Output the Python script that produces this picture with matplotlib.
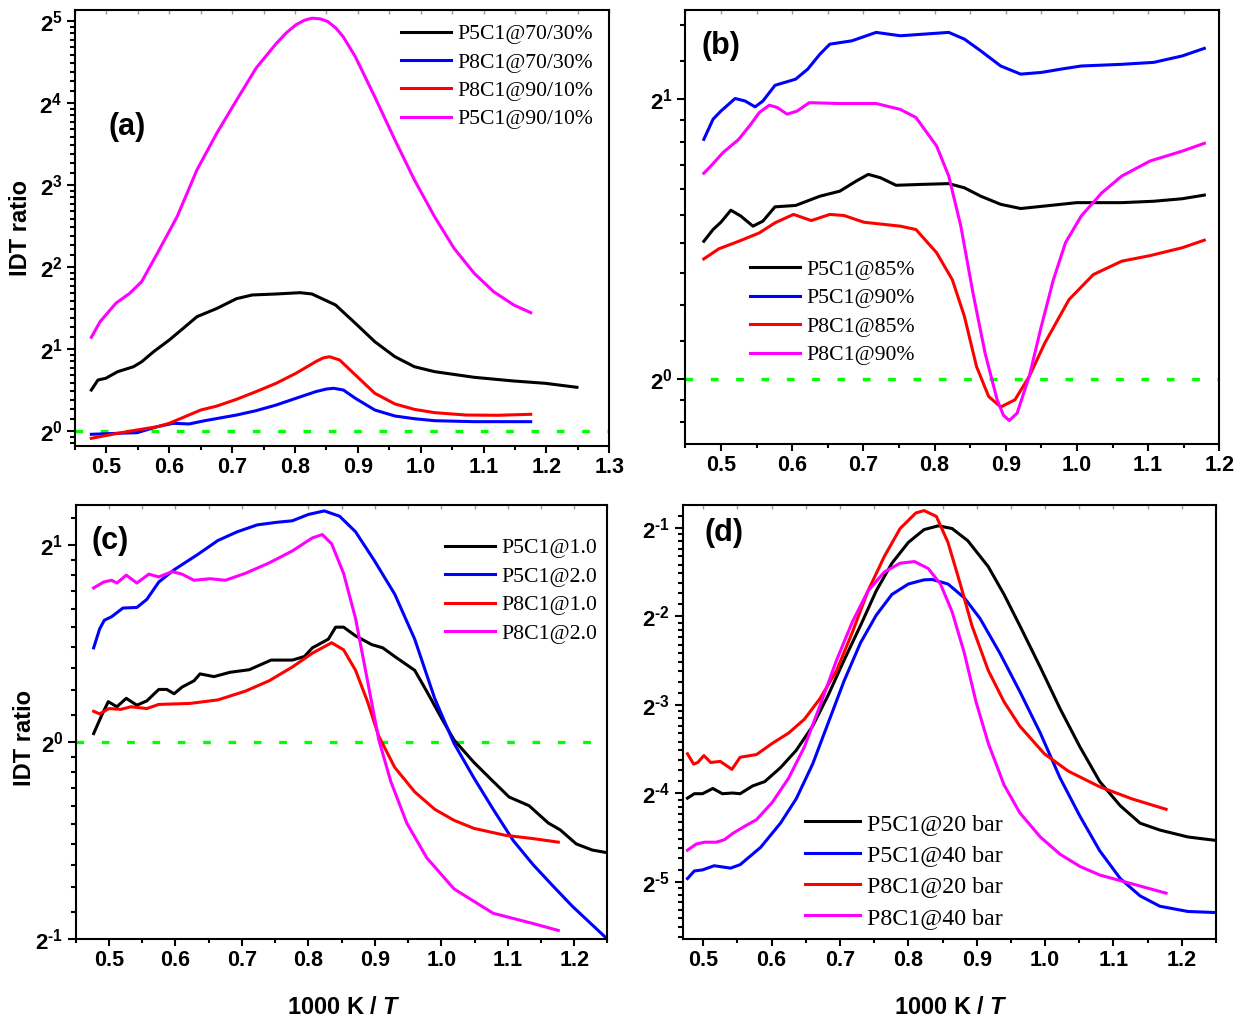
import numpy as np
import matplotlib
matplotlib.use('Agg')
import matplotlib.pyplot as plt
from matplotlib.ticker import MultipleLocator, LogLocator, FuncFormatter, FormatStrFormatter, NullFormatter

plt.rcParams['font.family'] = ['Liberation Sans', 'DejaVu Sans']
plt.rcParams['font.weight'] = 'bold'
plt.rcParams['mathtext.fontset'] = 'custom'
plt.rcParams['mathtext.rm'] = 'Liberation Sans'
plt.rcParams['mathtext.bf'] = 'Liberation Sans:bold'
plt.rcParams['mathtext.it'] = 'Liberation Sans:italic:bold'

# values, y given as log2(IDT ratio)
# (a) blend ratio
a_p5c1_7030_x = [0.476, 0.4865, 0.499, 0.518, 0.543, 0.556, 0.575, 0.600, 0.619, 0.644, 0.6565, 0.6755, 0.707, 0.732,
                 0.770, 0.808, 0.827, 0.8645, 0.896, 0.927, 0.959, 0.990, 1.022, 1.085, 1.148, 1.198, 1.2485]
a_p5c1_7030_log2 = [0.496, 0.618, 0.639, 0.720, 0.780, 0.840, 0.963, 1.106, 1.228, 1.390, 1.430, 1.490, 1.610, 1.655,
                    1.667, 1.683, 1.667, 1.533, 1.310, 1.085, 0.902, 0.780, 0.720, 0.651, 0.606, 0.578, 0.529]
a_p8c1_7030_x = [0.476, 0.518, 0.549, 0.581, 0.606, 0.6315, 0.6565, 0.707, 0.738, 0.770, 0.8015, 0.833, 0.850, 0.8615,
                 0.877, 0.896, 0.927, 0.959, 0.990, 1.022, 1.085, 1.175]
a_p8c1_7030_log2 = [-0.044, -0.032, -0.024, 0.049, 0.090, 0.082, 0.122, 0.191, 0.244, 0.313, 0.395, 0.476, 0.508, 0.517,
                    0.496, 0.395, 0.252, 0.179, 0.146, 0.122, 0.110, 0.110]
a_p8c1_9010_x = [0.476, 0.518, 0.549, 0.581, 0.600, 0.625, 0.650, 0.6755, 0.707, 0.738, 0.770, 0.8015, 0.833, 0.845,
                 0.855, 0.871, 0.896, 0.927, 0.959, 0.990, 1.022, 1.072, 1.1225, 1.175]
a_p8c1_9010_log2 = [-0.093, -0.032, 0.009, 0.049, 0.090, 0.171, 0.252, 0.300, 0.383, 0.476, 0.578, 0.700, 0.842, 0.888,
                    0.902, 0.862, 0.680, 0.456, 0.326, 0.260, 0.220, 0.191, 0.188, 0.200]
a_p5c1_9010_x = [0.476, 0.490, 0.515, 0.537, 0.556, 0.581, 0.6125, 0.644, 0.6755, 0.707, 0.738, 0.770, 0.786, 0.8015,
                 0.815, 0.827, 0.840, 0.852, 0.865, 0.877, 0.896, 0.927, 0.959, 0.990, 1.022, 1.053, 1.085, 1.116, 1.148,
                 1.175]
a_p5c1_9010_log2 = [1.139, 1.330, 1.554, 1.675, 1.817, 2.163, 2.610, 3.180, 3.627, 4.030, 4.420, 4.720, 4.850, 4.950,
                    5.005, 5.030, 5.022, 4.990, 4.910, 4.800, 4.560, 4.070, 3.545, 3.057, 2.610, 2.224, 1.920, 1.695,
                    1.533, 1.439]

# (b) share
b_p5c1_85_x = [0.476, 0.489, 0.500, 0.514, 0.528, 0.545, 0.559, 0.576, 0.605, 0.639, 0.667, 0.690, 0.707, 0.724, 0.746,
               0.780, 0.820, 0.842, 0.865, 0.893, 0.921, 0.955, 1.000, 1.063, 1.108, 1.148, 1.179]
b_p5c1_85_log2 = [0.492, 0.534, 0.560, 0.603, 0.582, 0.546, 0.564, 0.615, 0.620, 0.653, 0.671, 0.707, 0.731, 0.719,
                  0.692, 0.695, 0.698, 0.683, 0.653, 0.624, 0.609, 0.618, 0.630, 0.630, 0.635, 0.644, 0.657]
b_p5c1_90_x = [0.476, 0.489, 0.500, 0.520, 0.534, 0.548, 0.559, 0.576, 0.605, 0.622, 0.639, 0.653, 0.684, 0.718, 0.752,
               0.786, 0.820, 0.842, 0.865, 0.893, 0.921, 0.950, 0.978, 1.006, 1.063, 1.108, 1.148, 1.179]
b_p5c1_90_log2 = [0.856, 0.928, 0.957, 1.002, 0.993, 0.972, 0.993, 1.049, 1.071, 1.107, 1.160, 1.196, 1.208, 1.238,
                  1.226, 1.232, 1.238, 1.214, 1.172, 1.118, 1.089, 1.095, 1.107, 1.118, 1.124, 1.131, 1.154, 1.181]
b_p8c1_85_x = [0.476, 0.497, 0.525, 0.554, 0.576, 0.602, 0.627, 0.653, 0.673, 0.701, 0.752, 0.774, 0.803, 0.825, 0.842,
               0.859, 0.876, 0.893, 0.913, 0.933, 0.955, 0.989, 1.023, 1.063, 1.103, 1.148, 1.179]
b_p8c1_85_log2 = [0.429, 0.465, 0.492, 0.522, 0.558, 0.588, 0.566, 0.588, 0.584, 0.560, 0.546, 0.534, 0.451, 0.355,
                  0.224, 0.045, -0.062, -0.100, -0.074, 0.009, 0.129, 0.284, 0.373, 0.421, 0.441, 0.469, 0.496]
b_p8c1_90_x = [0.476, 0.486, 0.503, 0.525, 0.542, 0.554, 0.568, 0.579, 0.593, 0.607, 0.624, 0.667, 0.718, 0.752, 0.774,
               0.803, 0.820, 0.837, 0.854, 0.871, 0.888, 0.897, 0.905, 0.916, 0.933, 0.950, 0.967, 0.984, 1.006, 1.035,
               1.063, 1.103, 1.148, 1.179]
b_p8c1_90_log2 = [0.735, 0.761, 0.809, 0.856, 0.910, 0.952, 0.978, 0.970, 0.946, 0.957, 0.987, 0.984, 0.984, 0.963,
                  0.934, 0.832, 0.725, 0.546, 0.308, 0.093, -0.074, -0.130, -0.148, -0.122, 0.009, 0.188, 0.355, 0.487,
                  0.582, 0.665, 0.725, 0.779, 0.814, 0.842]

# (c) equivalence ratio
c_p5c1_10_x = [0.477, 0.489, 0.499, 0.512, 0.526, 0.542, 0.557, 0.575, 0.587, 0.598, 0.610, 0.628, 0.637, 0.658, 0.682,
               0.711, 0.744, 0.776, 0.794, 0.806, 0.830, 0.841, 0.853, 0.871, 0.895, 0.912, 0.930, 0.960, 0.978, 1.001,
               1.019, 1.049, 1.078, 1.102, 1.132, 1.161, 1.179, 1.203, 1.227, 1.247]
c_p5c1_10_log2 = [0.044, 0.136, 0.206, 0.180, 0.223, 0.188, 0.210, 0.268, 0.268, 0.246, 0.280, 0.312, 0.347, 0.333,
                  0.355, 0.368, 0.417, 0.417, 0.435, 0.479, 0.523, 0.584, 0.584, 0.540, 0.496, 0.479, 0.435, 0.365,
                  0.259, 0.118, 0.012, -0.102, -0.199, -0.278, -0.322, -0.410, -0.445, -0.516, -0.547, -0.559]
c_p5c1_20_x = [0.477, 0.486, 0.493, 0.504, 0.521, 0.542, 0.557, 0.575, 0.598, 0.634, 0.664, 0.693, 0.723, 0.752, 0.776,
               0.800, 0.824, 0.847, 0.871, 0.900, 0.930, 0.960, 0.990, 1.019, 1.049, 1.078, 1.108, 1.138, 1.167, 1.197,
               1.247]
c_p5c1_20_log2 = [0.479, 0.575, 0.619, 0.637, 0.681, 0.684, 0.725, 0.813, 0.875, 0.954, 1.024, 1.068, 1.103, 1.116,
                  1.124, 1.156, 1.174, 1.147, 1.068, 0.918, 0.751, 0.523, 0.223, -0.005, -0.181, -0.340, -0.498,
                  -0.621, -0.726, -0.832, -0.990]
c_p8c1_10_x = [0.477, 0.486, 0.500, 0.518, 0.533, 0.557, 0.575, 0.622, 0.664, 0.705, 0.741, 0.776, 0.806, 0.835, 0.853,
               0.871, 0.889, 0.906, 0.930, 0.960, 0.990, 1.019, 1.049, 1.096, 1.138, 1.176]
c_p8c1_10_log2 = [0.157, 0.144, 0.171, 0.167, 0.180, 0.171, 0.192, 0.197, 0.215, 0.259, 0.312, 0.382, 0.452, 0.505,
                  0.469, 0.365, 0.206, 0.030, -0.128, -0.252, -0.340, -0.396, -0.437, -0.472, -0.489, -0.507]
c_p8c1_20_x = [0.477, 0.492, 0.504, 0.512, 0.526, 0.542, 0.560, 0.575, 0.595, 0.610, 0.628, 0.652, 0.675, 0.705, 0.741,
               0.776, 0.806, 0.821, 0.835, 0.853, 0.871, 0.889, 0.906, 0.924, 0.948, 0.978, 1.019, 1.078, 1.138, 1.176]
c_p8c1_20_log2 = [0.783, 0.813, 0.822, 0.808, 0.848, 0.808, 0.853, 0.839, 0.866, 0.853, 0.822, 0.830, 0.822, 0.857,
                  0.910, 0.971, 1.037, 1.054, 1.007, 0.857, 0.628, 0.312, 0.012, -0.199, -0.410, -0.586, -0.744,
                  -0.868, -0.920, -0.955]

# (d) pressure
d_p5c1_20_x = [0.477, 0.487, 0.499, 0.514, 0.528, 0.543, 0.554, 0.572, 0.590, 0.613, 0.636, 0.660, 0.683, 0.706, 0.730,
               0.753, 0.776, 0.800, 0.823, 0.844, 0.864, 0.887, 0.917, 0.940, 0.963, 0.993, 1.022, 1.051, 1.080, 1.110,
               1.139, 1.168, 1.209, 1.250]
d_p5c1_20_log2 = [-4.055, -4.005, -4.005, -3.946, -4.005, -3.997, -4.005, -3.918, -3.868, -3.711, -3.515, -3.241,
                  -2.888, -2.496, -2.105, -1.713, -1.400, -1.165, -1.020, -0.977, -1.008, -1.146, -1.440, -1.753,
                  -2.105, -2.575, -3.045, -3.476, -3.868, -4.141, -4.338, -4.416, -4.494, -4.533]
d_p5c1_40_x = [0.477, 0.487, 0.499, 0.516, 0.540, 0.554, 0.584, 0.613, 0.636, 0.660, 0.683, 0.706, 0.730, 0.753, 0.776,
               0.800, 0.823, 0.835, 0.858, 0.882, 0.905, 0.934, 0.963, 0.993, 1.022, 1.051, 1.080, 1.110, 1.139, 1.168,
               1.209, 1.250]
d_p5c1_40_log2 = [-4.964, -4.878, -4.866, -4.819, -4.846, -4.807, -4.611, -4.338, -4.063, -3.671, -3.201, -2.731,
                  -2.301, -1.988, -1.753, -1.635, -1.588, -1.584, -1.635, -1.792, -2.026, -2.418, -2.849, -3.319,
                  -3.828, -4.259, -4.651, -4.964, -5.160, -5.277, -5.336, -5.348]
d_p8c1_20_x = [0.477, 0.486, 0.492, 0.501, 0.511, 0.525, 0.542, 0.554, 0.578, 0.601, 0.625, 0.648, 0.671, 0.695, 0.718,
               0.741, 0.765, 0.788, 0.811, 0.823, 0.841, 0.858, 0.876, 0.893, 0.917, 0.940, 0.963, 0.999, 1.034, 1.080,
               1.127, 1.177]
d_p8c1_20_log2 = [-3.554, -3.671, -3.652, -3.574, -3.652, -3.640, -3.730, -3.593, -3.562, -3.436, -3.319, -3.163,
                  -2.928, -2.614, -2.183, -1.713, -1.322, -1.008, -0.832, -0.805, -0.871, -1.165, -1.635, -2.105,
                  -2.614, -2.966, -3.241, -3.554, -3.750, -3.927, -4.063, -4.181]
d_p8c1_40_x = [0.477, 0.490, 0.502, 0.519, 0.531, 0.543, 0.560, 0.578, 0.601, 0.625, 0.648, 0.671, 0.695, 0.718, 0.741,
               0.765, 0.788, 0.809, 0.829, 0.847, 0.864, 0.882, 0.899, 0.917, 0.940, 0.963, 0.993, 1.022, 1.051, 1.080,
               1.127, 1.177]
d_p8c1_40_log2 = [-4.643, -4.573, -4.553, -4.553, -4.525, -4.455, -4.376, -4.298, -4.103, -3.828, -3.476, -3.006,
                  -2.496, -2.066, -1.713, -1.498, -1.400, -1.381, -1.459, -1.635, -1.948, -2.418, -2.966, -3.436,
                  -3.906, -4.220, -4.494, -4.689, -4.827, -4.924, -5.023, -5.129]

a_labels = ['P5C1@70/30%', 'P8C1@70/30%', 'P8C1@90/10%', 'P5C1@90/10%']
b_labels = ['P5C1@85%', 'P5C1@90%', 'P8C1@85%', 'P8C1@90%']
c_labels = ['P5C1@1.0', 'P5C1@2.0', 'P8C1@1.0', 'P8C1@2.0']
d_labels = ['P5C1@20 bar', 'P5C1@40 bar', 'P8C1@20 bar', 'P8C1@40 bar']

W, H = 1247, 1024
fig = plt.figure(figsize=(W / 100, H / 100), dpi=100)


def px_axes(left, top, right, bottom):
    return fig.add_axes([left / W, 1 - bottom / H, (right - left) / W, (bottom - top) / H])


def pow2_label(v, pos):
    n = int(round(np.log2(v)))
    exp = str(n).replace('-', '\u2010')
    return r'$\mathbf{2}^{\mathrm{%s}}$' % exp


def style(ax, xlim, ylim_exp):
    ax.set_yscale('log', base=2)
    ax.set_xlim(*xlim)
    ax.set_ylim(2.0 ** ylim_exp[0], 2.0 ** ylim_exp[1])
    ax.axhline(1.0, color='#00ff00', lw=2.4, dashes=(2.3, 5.3), zorder=1)
    ax.xaxis.set_major_locator(MultipleLocator(0.1))
    ax.xaxis.set_minor_locator(MultipleLocator(0.05))
    ax.xaxis.set_major_formatter(FormatStrFormatter('%.1f'))
    ax.yaxis.set_major_locator(LogLocator(base=2, subs=(1.0,), numticks=50))
    ax.yaxis.set_minor_locator(LogLocator(base=2, subs=np.arange(1.1, 1.95, 0.1), numticks=50))
    ax.yaxis.set_major_formatter(FuncFormatter(pow2_label))
    ax.yaxis.set_minor_formatter(NullFormatter())
    ax.tick_params(axis='x', which='major', direction='out', length=5, width=1.5, labelsize=15.5, pad=3)
    ax.tick_params(axis='x', which='minor', direction='out', length=3, width=1.5)
    ax.tick_params(axis='y', which='major', direction='out', length=6, width=1.5, labelsize=16, pad=3)
    ax.tick_params(axis='y', which='minor', direction='out', length=3.5, width=1.5)
    for sp in ax.spines.values():
        sp.set_linewidth(1.5)
    top = ax.secondary_xaxis('top')
    top.xaxis.set_major_locator(MultipleLocator(0.1))
    top.xaxis.set_minor_locator(MultipleLocator(0.05))
    top.tick_params(which='both', direction='in', length=3, width=1, color='0.6', labeltop=False)
    top.spines['top'].set_visible(False)


def add_legend(ax, handles, labels, x_px, y_px, size, spacing):
    ax.legend(handles, labels, loc='upper left', bbox_to_anchor=(x_px / W, 1 - y_px / H),
              bbox_transform=fig.transFigure, frameon=False, borderpad=0, borderaxespad=0,
              handlelength=2.3, handletextpad=0.3, labelspacing=spacing,
              prop={'family': 'Liberation Serif', 'size': size, 'weight': 'normal'})


lw = 2.2
colors = ['black', '#0000ff', '#ff0000', '#ff00ff']

# (a)
ax_a = px_axes(75, 10, 609.3, 445.7)
style(ax_a, (0.45, 1.3), (-0.183, 5.13))
ha = []
for xs, ls, c in [(a_p5c1_7030_x, a_p5c1_7030_log2, colors[0]), (a_p8c1_7030_x, a_p8c1_7030_log2, colors[1]),
                  (a_p8c1_9010_x, a_p8c1_9010_log2, colors[2]), (a_p5c1_9010_x, a_p5c1_9010_log2, colors[3])]:
    ha.append(ax_a.plot(xs, 2.0 ** np.array(ls), color=c, lw=lw)[0])
add_legend(ax_a, ha, a_labels, 401, 24, 15.6, 0.38)
fig.text(127 / W, 1 - 127 / H, '(a)', fontsize=22, fontweight='bold', ha='center', va='center')

# (b)
ax_b = px_axes(685.3, 10, 1219.3, 444.3)
style(ax_b, (0.45, 1.2), (-0.233, 1.318))
hb = []
for xs, ls, c in [(b_p5c1_85_x, b_p5c1_85_log2, colors[0]), (b_p5c1_90_x, b_p5c1_90_log2, colors[1]),
                  (b_p8c1_85_x, b_p8c1_85_log2, colors[2]), (b_p8c1_90_x, b_p8c1_90_log2, colors[3])]:
    hb.append(ax_b.plot(xs, 2.0 ** np.array(ls), color=c, lw=lw)[0])
add_legend(ax_b, hb, b_labels, 750, 259.5, 15.7, 0.38)
fig.text(721 / W, 1 - 46 / H, '(b)', fontsize=22, fontweight='bold', ha='center', va='center')

# (c)
ax_c = px_axes(75.7, 505, 607.5, 939.3)
style(ax_c, (0.45, 1.25), (-1.0, 1.204))
hc = []
for xs, ls, c in [(c_p5c1_10_x, c_p5c1_10_log2, colors[0]), (c_p5c1_20_x, c_p5c1_20_log2, colors[1]),
                  (c_p8c1_10_x, c_p8c1_10_log2, colors[2]), (c_p8c1_20_x, c_p8c1_20_log2, colors[3])]:
    hc.append(ax_c.plot(xs, 2.0 ** np.array(ls), color=c, lw=lw)[0])
add_legend(ax_c, hc, c_labels, 444.7, 538, 15.7, 0.38)
fig.text(110 / W, 1 - 541 / H, '(c)', fontsize=22, fontweight='bold', ha='center', va='center')

# (d)
ax_d = px_axes(682.7, 505, 1216, 939)
style(ax_d, (0.47, 1.25), (-5.647, -0.742))
hd = []
for xs, ls, c in [(d_p5c1_20_x, d_p5c1_20_log2, colors[0]), (d_p5c1_40_x, d_p5c1_40_log2, colors[1]),
                  (d_p8c1_20_x, d_p8c1_20_log2, colors[2]), (d_p8c1_40_x, d_p8c1_40_log2, colors[3])]:
    hd.append(ax_d.plot(xs, 2.0 ** np.array(ls), color=c, lw=lw)[0])
add_legend(ax_d, hd, d_labels, 805, 813, 17.2, 0.4)
fig.text(724 / W, 1 - 533 / H, '(d)', fontsize=22, fontweight='bold', ha='center', va='center')

# axis titles
fig.text(21 / W, 1 - 228 / H, 'IDT ratio', rotation=90, fontsize=17, fontweight='bold', ha='center', va='center')
fig.text(25 / W, 1 - 738 / H, 'IDT ratio', rotation=90, fontsize=17, fontweight='bold', ha='center', va='center')
fig.text(344 / W, 1 - 1007 / H, '1000 K / $\\mathit{T}$', fontsize=17, fontweight='bold', ha='center', va='center')
fig.text(951 / W, 1 - 1007 / H, '1000 K / $\\mathit{T}$', fontsize=17, fontweight='bold', ha='center', va='center')

fig.savefig('out.png', dpi=100)
